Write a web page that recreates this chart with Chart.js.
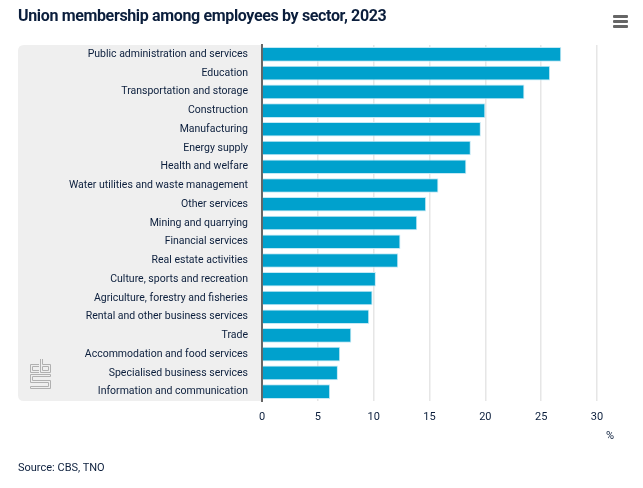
<!DOCTYPE html>
<html>
<head>
<meta charset="utf-8">
<script src="https://cdn.jsdelivr.net/npm/chart.js@4.4.0/dist/chart.umd.min.js"></script>
<style>
  html, body { margin: 0; padding: 0; background: #ffffff; }
  #wrap { position: relative; width: 643px; height: 488px; overflow: hidden; font-family: Roboto, "Noto Sans", sans-serif; }
  #c { position: absolute; left: 0; top: 0; }
  #title { position: absolute; left: 18px; top: 6px; font-size: 16px; font-weight: 700; color: #0b1e3c; white-space: nowrap; letter-spacing: -0.35px; }
  #menu { position: absolute; left: 613px; top: 15px; width: 15px; }
  #menu div { height: 2.5px; background: #666; margin-bottom: 2.5px; border-radius: 1px; }
  #unit { position: absolute; left: 606px; top: 429px; font-size: 11px; color: #0b1e3c; }
  #source { position: absolute; left: 18px; top: 461px; font-size: 11px; color: #0b1e3c; }
  #logo { position: absolute; left: 30px; top: 359px; }
</style>
</head>
<body>
<div id="wrap">
  <canvas id="c" width="643" height="488"></canvas>
  <div id="title">Union membership among employees by sector, 2023</div>
  <div id="menu"><div></div><div></div><div></div></div>
  <svg id="logo" width="21" height="30" viewBox="0 0 21 30">
    <g fill="none" stroke="#b0b0b0" stroke-width="1">
      <path d="M9 5.5 H0.5 V13.5 H9"/>
      <path d="M9 7.5 H2.5 V11.5 H9"/>
      <path d="M10.5 0 V13.5 H20.5 V5.5 H12.5 V0"/>
      <path d="M12.5 7.5 H18.5 V11.5 H12.5 Z"/>
      <path d="M20.5 15.5 H0.5 V23.5 H18.5 V27.5 H0.5 V29.5 H20.5 V21.5 H2.5 V17.5 H20.5 Z"/>
    </g>
  </svg>
  <div id="unit">%</div>
  <div id="source">Source: CBS, TNO</div>
</div>
<script>
const categories = [
  "Public administration and services",
  "Education",
  "Transportation and storage",
  "Construction",
  "Manufacturing",
  "Energy supply",
  "Health and welfare",
  "Water utilities and waste management",
  "Other services",
  "Mining and quarrying",
  "Financial services",
  "Real estate activities",
  "Culture, sports and recreation",
  "Agriculture, forestry and fisheries",
  "Rental and other business services",
  "Trade",
  "Accommodation and food services",
  "Specialised business services",
  "Information and communication"
];
const membership = [26.8, 25.8, 23.5, 20.0, 19.6, 18.7, 18.3, 15.8, 14.7, 13.9, 12.4, 12.2, 10.2, 9.9, 9.6, 8.0, 7.0, 6.8, 6.1];
const xTicks = [0, 5, 10, 15, 20, 25, 30];

const textColor = '#0b1e3c';

const bgPlugin = {
  id: 'labelBg',
  beforeDraw(chart) {
    const ctx = chart.ctx;
    const a = chart.chartArea;
    const x0 = 18, x1 = a.left, y0 = a.top, y1 = a.bottom, r = 6;
    ctx.save();
    ctx.fillStyle = '#efefef';
    ctx.beginPath();
    ctx.moveTo(x1, y0);
    ctx.lineTo(x0 + r, y0);
    ctx.quadraticCurveTo(x0, y0, x0, y0 + r);
    ctx.lineTo(x0, y1 - r);
    ctx.quadraticCurveTo(x0, y1, x0 + r, y1);
    ctx.lineTo(x1, y1);
    ctx.closePath();
    ctx.fill();
    ctx.restore();
  }
};

new Chart(document.getElementById('c'), {
  type: 'bar',
  data: {
    labels: categories,
    datasets: [{
      data: membership,
      backgroundColor: '#00a1cd',
      borderColor: '#c4e9f5',
      borderWidth: 1,
      borderSkipped: 'left',
      categoryPercentage: 1,
      barPercentage: 0.78
    }]
  },
  options: {
    indexAxis: 'y',
    responsive: false,
    animation: false,
    layout: { padding: { left: 18, right: 46, top: 45, bottom: 57 } },
    plugins: {
      legend: { display: false },
      tooltip: { enabled: false },
      title: { display: false }
    },
    scales: {
      x: {
        min: 0,
        max: 30,
        afterBuildTicks(scale) { scale.ticks = xTicks.map(v => ({ value: v })); },
        afterFit(scale) { scale.height = 30; },
        grid: {
          color: ctx => (ctx.tick && ctx.tick.value === 0) ? 'rgba(0,0,0,0)' : '#e6e6e6',
          lineWidth: 1.5,
          drawTicks: false
        },
        border: { display: false },
        ticks: {
          padding: 10,
          color: textColor,
          font: { family: 'Roboto, "Noto Sans", sans-serif', size: 11 }
        }
      },
      y: {
        afterFit(scale) { scale.width = 244; },
        grid: { display: false, drawTicks: false },
        border: { display: true, color: '#666666', width: 2 },
        ticks: {
          padding: 14,
          color: textColor,
          font: { family: 'Roboto, "Noto Sans", sans-serif', size: 10.5 }
        }
      }
    }
  },
  plugins: [bgPlugin]
});
</script>
</body>
</html>
